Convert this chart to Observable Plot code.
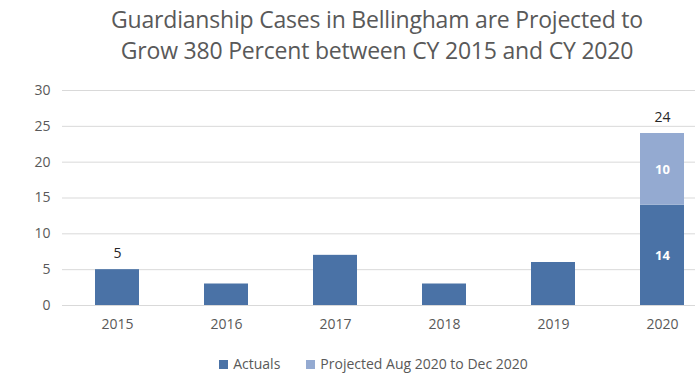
<!DOCTYPE html>
<html><head><meta charset="utf-8">
<script src="https://cdn.jsdelivr.net/npm/d3@7"></script>
<script src="https://cdn.jsdelivr.net/npm/@observablehq/plot@0.6"></script>
<style>
body{margin:0;background:#fff;font-family:"Open Sans",sans-serif;width:695px;height:374px;overflow:hidden}
#title{height:75px;box-sizing:border-box;padding-top:4px;padding-left:59px;text-align:center;color:#595959;font-size:23px;line-height:31px;letter-spacing:-0.2px;white-space:nowrap}
#legend{display:flex;justify-content:center;gap:26px;font-size:14px;color:#595959;margin-top:14px;padding-left:52px}
.sw{display:inline-block;width:9px;height:9px;margin-right:5px}
svg{display:block}
</style></head><body>
<div id="title">Guardianship Cases in Bellingham are Projected to<br>Grow 380 Percent between CY 2015 and CY 2020</div>
<div id="chart"></div>
<div id="legend"></div>
<script>
const years = ["2015","2016","2017","2018","2019","2020"];
const actuals = [5, 3, 7, 3, 6, 14];
const projected = [0, 0, 0, 0, 0, 10];
const seriesNames = ["Actuals", "Projected Aug 2020 to Dec 2020"];
const colors = ["#4a72a6", "#94aad1"];
const topLabels = [5, null, null, null, null, 24];

const rows = [];
years.forEach((y, i) => {
  rows.push({year: y, series: seriesNames[0], value: actuals[i]});
  if (projected[i]) rows.push({year: y, series: seriesNames[1], value: projected[i]});
});
const inside = years.map((y,i)=>({year:y, a:actuals[i], p:projected[i]})).filter(d=>d.p>0);
const tops = years.map((y,i)=>({year:y, v:topLabels[i]})).filter(d=>d.v!=null);

const chart = Plot.plot({
  width: 695, height: 265,
  marginLeft: 62, marginRight: 0, marginTop: 15, marginBottom: 35,
  style: {fontFamily: '"Open Sans", sans-serif', fontSize: "14px", color: "#595959"},
  x: {domain: years, range: [62, 716], paddingInner: 0.6, paddingOuter: 0.3, label: null, tickSize: 0, tickPadding: 14},
  y: {domain: [0, 30], ticks: [0,5,10,15,20,25,30], label: null, tickSize: 0, tickPadding: 12},
  color: {domain: seriesNames, range: colors},
  marks: [
    Plot.gridY([0,5,10,15,20,25,30], {stroke: "#d9d9d9", strokeOpacity: 1}),
    Plot.barY(rows, {x: "year", y: "value", fill: "series", order: seriesNames}),
    Plot.text(tops, {x: "year", y: "v", text: d => String(d.v), dy: -16, fill: "#262626", fontSize: 14}),
    Plot.text(inside, {x: "year", y: d => d.a / 2, text: d => String(d.a), fill: "white", fontWeight: "bold", fontSize: 13}),
    Plot.text(inside, {x: "year", y: d => d.a + d.p / 2, text: d => String(d.p), fill: "white", fontWeight: "bold", fontSize: 13})
  ]
});
document.getElementById("chart").append(chart);
const lg = document.getElementById("legend");
seriesNames.forEach((n,i)=>{
  const s = document.createElement("span");
  s.innerHTML = `<span class="sw" style="background:${colors[i]}"></span>${n}`;
  lg.append(s);
});
</script>
</body></html>
